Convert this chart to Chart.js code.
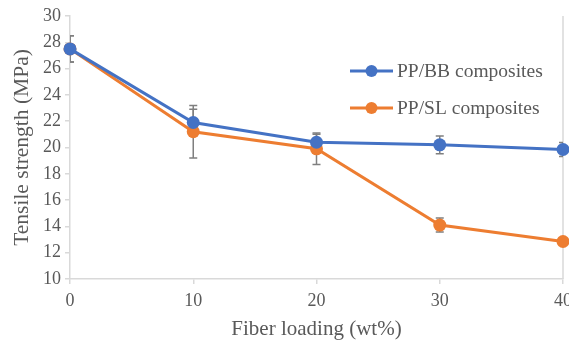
<!DOCTYPE html>
<html>
<head>
<meta charset="utf-8">
<script src="https://cdn.jsdelivr.net/npm/chart.js@4/dist/chart.umd.min.js"></script>
<style>
  html, body { margin: 0; padding: 0; background: #fff; }
  #wrap { width: 569px; height: 345px; }
</style>
</head>
<body>
<div id="wrap"><canvas id="chart"></canvas></div>
<script>
// fiber loading (wt%)
const loadings = [0, 10, 20, 30, 40];
// tensile strength (MPa)
const bbValues = [27.5, 21.9, 20.4, 20.2, 19.85];
const slValues = [27.5, 21.2, 19.9, 14.1, 12.85];
// standard deviations
const bbErrors = [1.0, 1.0, 0.6, 0.67, 0.53];
const slErrors = [1.0, 2.0, 1.2, 0.53, 0.1];

const seriesNames = ['PP/BB composites', 'PP/SL composites'];
const blue = '#4472C4';
const orange = '#ED7D31';
const textGray = '#595959';
const axisGray = '#D9D9D9';
const serif = "'Liberation Serif', 'Times New Roman', serif";

// error bars, drawn under the lines and markers
const errorBars = {
    id: 'errorBars',
    beforeDatasetsDraw(chart) {
        const ctx = chart.ctx;
        const xs = chart.scales.x, ys = chart.scales.y;
        const area = chart.chartArea;
        ctx.save();
        ctx.beginPath();
        ctx.rect(area.left, area.top - 10, area.right - area.left, area.bottom - area.top + 20);
        ctx.clip();
        ctx.strokeStyle = '#7F7F7F';
        ctx.lineWidth = 1.5;
        chart.data.datasets.forEach(ds => {
            ds.data.forEach((p, i) => {
                const err = ds.errors[i];
                const x = xs.getPixelForValue(p.x);
                const yTop = ys.getPixelForValue(p.y + err);
                const yBot = ys.getPixelForValue(p.y - err);
                ctx.beginPath();
                ctx.moveTo(x, yTop); ctx.lineTo(x, yBot);
                ctx.moveTo(x - 4, yTop); ctx.lineTo(x + 4, yTop);
                ctx.moveTo(x - 4, yBot); ctx.lineTo(x + 4, yBot);
                ctx.stroke();
            });
        });
        ctx.restore();
    }
};

// right border + legend inside the plot
const extras = {
    id: 'extras',
    beforeDraw(chart) {
        const ctx = chart.ctx;
        const area = chart.chartArea;
        ctx.save();
        ctx.strokeStyle = axisGray;
        ctx.lineWidth = 1.5;
        ctx.beginPath();
        ctx.moveTo(area.right, area.top);
        ctx.lineTo(area.right, area.bottom);
        ctx.stroke();
        ctx.restore();
    },
    afterDraw(chart) {
        const ctx = chart.ctx;
        ctx.save();
        ctx.font = '19.5px ' + serif;
        ctx.textBaseline = 'middle';
        chart.data.datasets.forEach((ds, i) => {
            const y = 71 + i * 37;
            ctx.strokeStyle = ds.borderColor;
            ctx.lineWidth = 3;
            ctx.beginPath();
            ctx.moveTo(350, y); ctx.lineTo(393, y);
            ctx.stroke();
            ctx.fillStyle = ds.borderColor;
            ctx.beginPath();
            ctx.arc(371.5, y, 6, 0, Math.PI * 2);
            ctx.fill();
            ctx.fillStyle = textGray;
            ctx.fillText(ds.label, 397, y + 1);
        });
        ctx.restore();
    }
};

function points(vals) {
    return loadings.map((x, i) => ({ x: x, y: vals[i] }));
}

new Chart(document.getElementById('chart'), {
    type: 'line',
    data: {
        datasets: [
            {
                label: seriesNames[0],
                data: points(bbValues),
                errors: bbErrors,
                borderColor: blue,
                backgroundColor: blue,
                borderWidth: 3,
                pointRadius: 6.5,
                pointBorderWidth: 0,
                clip: false
            },
            {
                label: seriesNames[1],
                data: points(slValues),
                errors: slErrors,
                borderColor: orange,
                backgroundColor: orange,
                borderWidth: 3,
                pointRadius: 6.5,
                pointBorderWidth: 0,
                clip: false
            }
        ]
    },
    options: {
        responsive: true,
        maintainAspectRatio: false,
        animation: false,
        layout: { padding: { top: 16, right: 6, left: 0, bottom: 0 }, autoPadding: false },
        plugins: {
            legend: { display: false },
            tooltip: { enabled: false }
        },
        scales: {
            x: {
                type: 'linear',
                min: 0,
                max: 40,
                ticks: { stepSize: 10, color: textGray, font: { family: serif, size: 18 }, padding: 6 },
                grid: { drawOnChartArea: false, drawTicks: true, tickLength: 5, color: axisGray, lineWidth: 1.5 },
                border: { color: axisGray, width: 1.5 },
                title: { display: true, text: 'Fiber loading (wt%)', color: textGray, font: { family: serif, size: 21 }, padding: { top: 0, bottom: 3 } },
                afterFit(scale) {
                    scale.height = 66;
                    scale.paddingLeft = 0;
                    scale.paddingRight = 0;
                }
            },
            y: {
                min: 10,
                max: 30,
                ticks: { stepSize: 2, color: textGray, font: { family: serif, size: 18 }, padding: 4 },
                grid: { drawOnChartArea: false, drawTicks: true, tickLength: 5, color: axisGray, lineWidth: 1.5 },
                border: { color: axisGray, width: 1.5 },
                title: { display: true, text: 'Tensile strength (MPa)', color: textGray, font: { family: serif, size: 21.5 }, padding: { top: 9, bottom: 0 } },
                afterFit(scale) {
                    scale.width = 70;
                    scale.paddingTop = 0;
                    scale.paddingBottom = 0;
                }
            }
        }
    },
    plugins: [errorBars, extras]
});
</script>
</body>
</html>
